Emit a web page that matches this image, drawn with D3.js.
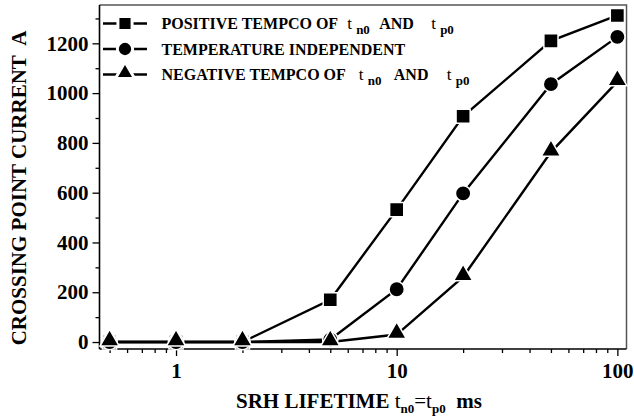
<!DOCTYPE html>
<html><head><meta charset="utf-8">
<script src="https://cdn.jsdelivr.net/npm/d3@7"></script>
<style>
html,body{margin:0;padding:0;background:#fff;}
svg{display:block;}
svg text{font-family:"Liberation Serif","Times New Roman",serif;font-weight:bold;}
svg text .nb{font-weight:normal;}
</style></head>
<body>
<svg id="chart" width="634" height="416"></svg>
<script>
const lifetimes = [0.5, 1, 2, 5, 10, 20, 50, 100];
const positiveTempco = [0, 0, 0, 170, 532, 907, 1210, 1312];
const temperatureIndependent = [0, 0, 0, 10, 212, 597, 1036, 1226];
const negativeTempco = [0, 0, 0, 0, 30, 262, 763, 1046];
const seriesNames = ["POSITIVE TEMPCO OF", "TEMPERATURE INDEPENDENT", "NEGATIVE TEMPCO OF"];
const seriesSymbols = ["square", "circle", "triangle"];
const yTicks = [0, 200, 400, 600, 800, 1000, 1200];
const yMinorTicks = [100, 300, 500, 700, 900, 1100, 1300];
const xTicks = [1, 10, 100];
const xMinorTicks = [0.5,0.6,0.7,0.8,0.9,2,3,4,5,6,7,8,9,20,30,40,50,60,70,80,90];

const svg = d3.select("#chart");
const L = 99.5, R = 626.5, T = 5, B = 349;
const x = d3.scaleLog().domain([0.45, 110]).range([L, R]);
const y = d3.scaleLinear().domain([-28, 1354]).range([B, T]);

// frame (top & right grey)
svg.append("path").attr("d", `M${L},${T}H${R}V${B}`).attr("fill","none").attr("stroke","#555").attr("stroke-width",1.5);

// y axis
const yAxis = svg.append("g").attr("transform", `translate(${L},0)`)
  .call(d3.axisLeft(y).tickValues(yTicks).tickSize(7).tickPadding(4).tickFormat(d3.format("d")));
yAxis.attr("font-family", null);
yAxis.select(".domain").attr("d", `M0,${T}V${B}`).attr("stroke","#000").attr("stroke-width",1.6);
yAxis.selectAll(".tick line").attr("stroke-width",1.3);
yAxis.selectAll(".tick text").attr("font-size",21).attr("fill","#000");
svg.append("g").attr("transform", `translate(${L},0)`)
  .call(d3.axisLeft(y).tickValues(yMinorTicks).tickSize(4).tickFormat(""))
  .call(g=>g.select(".domain").remove())
  .selectAll(".tick line").attr("stroke-width",1.3);

// x axis
const xAxis = svg.append("g").attr("transform", `translate(0,${B})`)
  .call(d3.axisBottom(x).tickValues(xTicks).tickSize(7).tickPadding(7).tickFormat(d3.format("d")));
xAxis.attr("font-family", null);
xAxis.select(".domain").attr("d", `M${L},0H${R}`).attr("stroke","#000").attr("stroke-width",1.6);
xAxis.selectAll(".tick line").attr("stroke-width",1.3);
xAxis.selectAll(".tick text").attr("font-size",21).attr("fill","#000");
svg.append("g").attr("transform", `translate(0,${B})`)
  .call(d3.axisBottom(x).tickValues(xMinorTicks).tickSize(4).tickFormat(""))
  .call(g=>g.select(".domain").remove())
  .selectAll(".tick line").attr("stroke-width",1.3);

// series
const allSeries = [positiveTempco, temperatureIndependent, negativeTempco];
const line = d3.line().x((d,i)=>x(lifetimes[i])).y(d=>y(d));
const symbolPath = {
  square: d3.symbol().type(d3.symbolSquare).size(200),
  circle: d3.symbol().type(d3.symbolCircle).size(185),
  triangle: d3.symbol().type(d3.symbolTriangle).size(160)
};
allSeries.forEach((vals,k)=>{
  svg.append("path").datum(vals).attr("d", line).attr("fill","none").attr("stroke","#000").attr("stroke-width",2.4);
});
allSeries.forEach((vals,k)=>{
  const dy = seriesSymbols[k]==="triangle" ? -1.5 : 0;
  svg.append("g").selectAll("path").data(vals).join("path")
    .attr("d", symbolPath[seriesSymbols[k]]())
    .attr("transform",(d,i)=>`translate(${x(lifetimes[i])},${y(d)+dy})`)
    .attr("fill","#000").attr("stroke","#fff").attr("stroke-width",1.5);
});

// legend
const legRows = [23.5, 49, 74.5];
const legOffsets = [[9,18,41,93,102], null, [13,22,48,101,110]];
seriesNames.forEach((name,k)=>{
  const cy = legRows[k];
  svg.append("line").attr("x1",103).attr("x2",147).attr("y1",cy).attr("y2",cy).attr("stroke","#000").attr("stroke-width",2.4);
  const dy = seriesSymbols[k]==="triangle" ? -1.5 : 0;
  svg.append("path").attr("d", symbolPath[seriesSymbols[k]]())
    .attr("transform",`translate(125,${cy+dy})`).attr("fill","#000").attr("stroke","#fff").attr("stroke-width",3);
  const t = svg.append("text").attr("x",161.5).attr("y",cy+5.8).attr("font-size",16).attr("fill","#000");
  const nm = t.append("tspan").text(name);
  if (legOffsets[k]) {
    const e = 161.5 + nm.node().getComputedTextLength();
    const o = legOffsets[k];
    t.append("tspan").attr("class","nb").attr("x",e+o[0]).attr("font-size",17).text("t");
    t.append("tspan").attr("font-size",13).attr("x",e+o[1]).attr("dy",5).text("n0");
    t.append("tspan").attr("x",e+o[2]).attr("dy",-5).text("AND");
    t.append("tspan").attr("class","nb").attr("x",e+o[3]).attr("font-size",17).text("t");
    t.append("tspan").attr("font-size",13).attr("x",e+o[4]).attr("dy",5).text("p0");
  }
});

// axis titles
svg.append("text").attr("transform","translate(26,188) rotate(-90)").attr("text-anchor","middle")
  .attr("font-size",21).attr("fill","#000").text("CROSSING POINT CURRENT\u00a0 A");
const xt = svg.append("text").attr("x",236).attr("y",408).attr("font-size",21).attr("fill","#000");
xt.append("tspan").text("SRH LIFETIME ");
xt.append("tspan").attr("class","nb").text("t");
xt.append("tspan").attr("font-size",13).attr("dy",5).text("n0");
xt.append("tspan").attr("dy",-5).attr("class","nb").text("=t");
xt.append("tspan").attr("font-size",13).attr("dy",5).text("p0");
xt.append("tspan").attr("dy",-5).text("\u00a0 ms");
</script>
</body></html>
